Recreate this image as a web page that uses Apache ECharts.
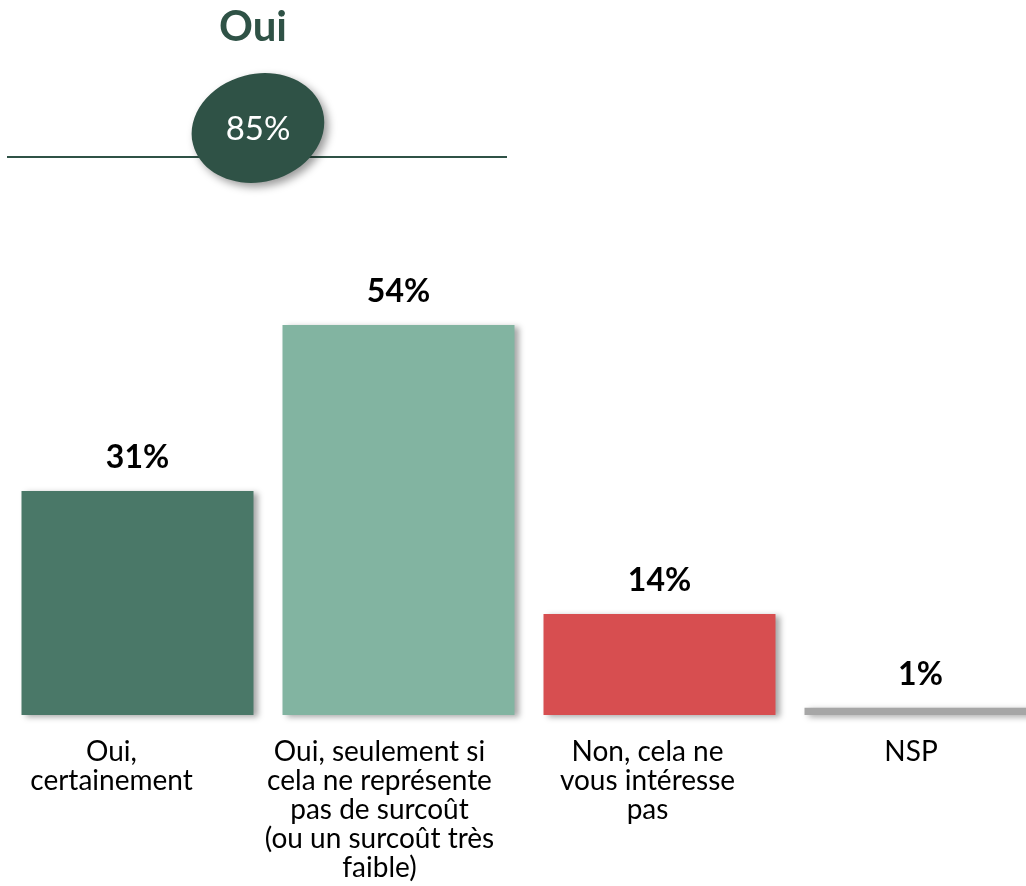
<!DOCTYPE html>
<html>
<head>
<meta charset="utf-8">
<script src="https://cdn.jsdelivr.net/npm/echarts@6/dist/echarts.min.js"></script>
<style>
  html, body { margin: 0; padding: 0; background: #fff; }
  #chart { width: 1026px; height: 886px; }
</style>
</head>
<body>
<div id="chart"></div>
<script>
// données
const categories = [
  'Oui,\ncertainement',
  'Oui, seulement si\ncela ne représente\npas de surcoût\n(ou un surcoût très\nfaible)',
  'Non, cela ne\nvous intéresse\npas',
  'NSP'
];
const values = [31, 54, 14, 1];
const totalLabel = 'Oui';
const totalValue = 85;

// styles
const barColors = ['#4a7868', '#82b4a1', '#d74e50', '#a6a6a6'];
const labelShift = [52, 38, 24, 19]; // décalage des libellés vers la gauche
const darkGreen = '#2f5246';
const font = 'Lato, "Noto Sans", sans-serif';

const chart = echarts.init(document.getElementById('chart'));

chart.setOption({
  animation: false,
  backgroundColor: '#fff',
  grid: {
    left: 7,
    right: -25,
    top: 65,
    bottom: 171,
    outerBoundsMode: 'none'
  },
  xAxis: {
    type: 'category',
    data: categories.map((c, i) => ({
      value: c,
      textStyle: { padding: [0, labelShift[i], 0, 0] }
    })),
    axisLine: { show: false },
    axisTick: { show: false },
    axisLabel: {
      interval: 0,
      margin: 22,
      color: '#000',
      fontFamily: font,
      fontSize: 28,
      lineHeight: 29
    }
  },
  yAxis: {
    type: 'value',
    min: 0,
    max: 90,
    show: false,
    splitLine: { show: false }
  },
  series: [
    {
      type: 'bar',
      barWidth: 232,
      data: values.map((v, i) => ({
        value: v,
        itemStyle: { color: barColors[i] }
      })),
      itemStyle: {
        shadowColor: 'rgba(0,0,0,0.35)',
        shadowBlur: 6,
        shadowOffsetX: 4,
        shadowOffsetY: 2
      },
      label: {
        show: true,
        position: 'top',
        distance: 17,
        formatter: '{c}%',
        color: '#000',
        fontFamily: font,
        fontWeight: 'bold',
        fontSize: 32
      }
    }
  ],
  graphic: [
    {
      type: 'text',
      x: 253,
      y: 27,
      style: {
        text: totalLabel,
        textAlign: 'center',
        textVerticalAlign: 'middle',
        fill: darkGreen,
        font: 'bold 42px ' + font
      }
    },
    {
      type: 'line',
      z: 1,
      shape: { x1: 7, y1: 157, x2: 507, y2: 157 },
      style: { stroke: darkGreen, lineWidth: 2 }
    },
    {
      type: 'ellipse',
      z: 2,
      x: 258,
      y: 128,
      rotation: 0.25,
      shape: { cx: 0, cy: 0, rx: 67, ry: 54 },
      style: {
        fill: darkGreen,
        shadowColor: 'rgba(0,0,0,0.4)',
        shadowBlur: 8,
        shadowOffsetX: 4,
        shadowOffsetY: 4
      }
    },
    {
      type: 'text',
      z: 3,
      x: 258,
      y: 129,
      style: {
        text: totalValue + '%',
        textAlign: 'center',
        textVerticalAlign: 'middle',
        fill: '#fff',
        font: '33px ' + font
      }
    }
  ]
});

window.onresize = function () {
  chart.resize();
};
</script>
</body>
</html>
